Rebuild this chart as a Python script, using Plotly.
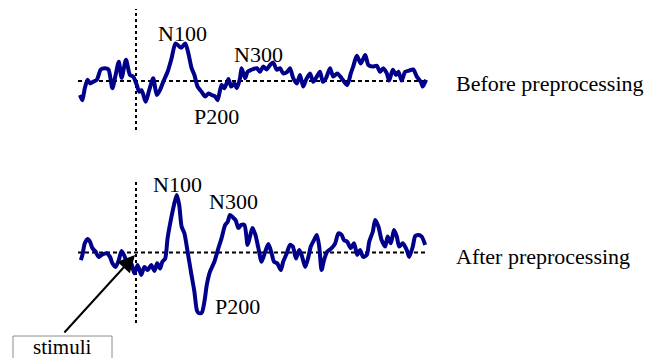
import plotly.graph_objects as go

# ---- data (time in ms relative to stimulus, amplitude in µV, negative up) ----
t_before = [-140, -134, -128, -121, -115, -107, -98, -88, -78, -69, -59, -51, -43, -36, -25, -15, -7,
            2, 8, 14, 24, 33, 43, 52, 60, 68, 79, 89, 99, 113, 123, 131, 139, 146, 154, 164, 173, 181,
            189, 198, 204, 214, 221, 231, 238, 246, 252, 260, 264, 273, 279, 288, 302, 310, 318, 327,
            335, 343, 352, 360, 368, 378, 385, 393, 402, 410, 418, 425, 435, 443, 452, 460, 467, 475,
            485, 493, 503, 514, 528, 537, 543, 552, 562, 573, 581, 592, 602, 610, 618, 627, 633, 642,
            650, 656, 664, 673, 683, 693, 702, 712, 717, 725]
v_before = [3.5, 4.8, 1.8, -0.3, 0.6, 0.2, -0.3, -2.9, -3.2, -2.9, 1.8, -1.5, -4.8, -0.8, -5.3, -1.5, -1.1,
            1.0, 2.7, 2.3, 5.2, 2.3, -0.7, 3.5, 2.3, 0.2, -2.3, -5.7, -9.4, -8.3, -9.4, -6.9, -3.2, -1.5,
            1.4, 2.7, 3.9, 3.1, 3.5, 3.9, 4.8, 1.0, 1.8, -0.5, 1.4, 0.6, 1.8, -0.7, -3.2, -0.7, -2.3,
            -2.8, -3.2, -2.3, -3.6, -2.9, -4.0, -4.6, -2.8, -3.2, -1.9, -2.3, -3.2, -0.7, 0.6, -1.5, 1.4,
            -0.3, -1.9, 0.2, -1.1, -2.3, 0.2, -0.7, -3.2, -1.1, -1.9, -0.7, 1.0, -1.9, -3.6, -6.3, -4.4,
            -6.5, -4.0, -3.6, -3.8, -2.3, -3.2, -1.9, -0.1, -2.8, -1.5, -2.3, -0.1, -2.3, -2.6, -2.9,
            -1.1, 0.2, 1.4, -0.3]

t_after = [-138, -134, -128, -121, -115, -109, -101, -94, -86, -73, -65, -59, -51, -43, -36, -28, -21,
           -13, -4, 4, 13, 21, 29, 38, 46, 53, 60, 66, 73, 79, 88, 95, 102, 108, 114, 121, 129, 138,
           146, 152, 156, 164, 171, 177, 185, 196, 206, 214, 223, 229, 235, 243, 249, 256, 263, 271,
           279, 285, 291, 298, 306, 314, 323, 331, 339, 345, 353, 362, 368, 377, 385, 392, 400, 408,
           414, 423, 431, 437, 445, 452, 458, 464, 470, 478, 489, 498, 506, 514, 520, 528, 537, 545,
           553, 560, 568, 577, 583, 592, 598, 606, 614, 623, 629, 637, 645, 652, 658, 667, 677, 683,
           692, 698, 706, 714, 723]
v_after = [1.9, 0.6, -2.3, -3.4, -2.7, -1.1, -0.2, 1.1, 0.6, 0.2, 1.1, 2.7, 3.6, 1.9, -0.4, 1.1, 3.1,
           2.5, 5.2, 3.1, 5.6, 3.6, 4.4, 3.1, 4.6, 2.7, 4.0, 2.3, 1.5, -3.6, -8.6, -11.9, -14.4, -11.9,
           -6.5, -4.8, -0.2, 5.2, 9.8, 14.4, 15.1, 15.1, 12.3, 8.1, 4.8, 2.3, -1.1, -3.6, -6.9, -7.6,
           -9.4, -8.7, -8.1, -6.1, -6.9, -6.9, -1.9, -4.0, -6.1, -4.6, -1.1, 2.3, -0.2, -2.1, 0.2, 2.3,
           2.7, 4.4, 2.3, 0.2, -1.9, -1.5, 1.5, -0.6, 0.6, 3.6, 1.1, -1.5, -3.1, -4.4, -1.5, 4.4, 1.9,
           -0.2, -1.1, -2.3, -4.8, -4.4, -3.1, -2.7, -1.1, -2.3, 0.6, -0.6, 1.1, 0.6, -2.7, -5.2, -8.1,
           -6.5, -3.1, -1.5, -4.0, -2.3, -5.6, -4.0, -1.5, -2.3, -0.6, 1.1, -1.5, -4.1, -4.4, -4.0, -1.9]

stimulus_onset = 0
baseline_span = [-145, 725]
trace_labels = ["Before preprocessing", "After preprocessing"]
component_labels = ["N100", "P200", "N300"]
stim_label = "stimuli"

W, H = 659, 358
NAVY = "rgb(0,0,139)"
FONT = "Liberation Serif, Times New Roman, serif"


def px(x):
    return x / W


def py(y):
    return 1 - y / H


fig = go.Figure()
fig.add_trace(go.Scatter(x=t_before, y=v_before, mode="lines", yaxis="y",
                         line=dict(color=NAVY, width=4, shape="spline", smoothing=0.7)))
fig.add_trace(go.Scatter(x=t_after, y=v_after, mode="lines", yaxis="y2",
                         line=dict(color=NAVY, width=4, shape="spline", smoothing=0.7)))

# baselines
for yr in ["y", "y2"]:
    fig.add_shape(type="line", xref="x", yref=yr, x0=baseline_span[0], x1=baseline_span[1], y0=0, y1=0,
                  line=dict(color="black", width=2, dash="4px,3px"), layer="below")
# stimulus onset lines
fig.add_shape(type="line", xref="x", yref="paper", x0=stimulus_onset, x1=stimulus_onset,
              y0=py(130), y1=py(9), line=dict(color="black", width=2, dash="3px,3px"), layer="below")
fig.add_shape(type="line", xref="x", yref="paper", x0=stimulus_onset, x1=stimulus_onset,
              y0=py(323), y1=py(179), line=dict(color="black", width=2, dash="3px,3px"), layer="below")

# stimuli box
fig.add_shape(type="rect", xref="paper", yref="paper", x0=px(13), x1=px(112), y0=py(372), y1=py(336),
              line=dict(color="#8c8c8c", width=1), fillcolor="white")

font = dict(family=FONT, size=22, color="black")


def label(text, cx, cy, xanchor="center", size=22):
    fig.add_annotation(text=text, x=px(cx), y=py(cy), xref="paper", yref="paper", showarrow=False,
                       xanchor=xanchor, yanchor="middle", font=dict(font, size=size))


label(component_labels[0], 182, 33)
label(component_labels[1], 216, 116)
label(component_labels[2], 258, 54)
label(trace_labels[0], 454, 83, xanchor="left")
label(component_labels[0], 177, 184)
label(component_labels[2], 233, 201)
label(component_labels[1], 237, 306)
label(trace_labels[1], 454, 256, xanchor="left")
label(stim_label, 62, 347, size=21)

# arrow to stimulus onset
fig.add_annotation(x=px(135), y=py(255), xref="paper", yref="paper", text="", showarrow=True,
                   ax=-72, ay=79, axref="pixel", ayref="pixel",
                   arrowhead=2, arrowsize=1.7, arrowwidth=2, arrowcolor="black")

fig.update_layout(
    width=W, height=H, margin=dict(l=0, r=0, t=0, b=0),
    paper_bgcolor="white", plot_bgcolor="white", showlegend=False, hovermode=False,
    xaxis=dict(range=[(0 - 136) * 2.5, (W - 136) * 2.5], visible=False, fixedrange=True),
    yaxis=dict(range=[(H - 81) / 4, (0 - 81) / 4], visible=False, fixedrange=True),
    yaxis2=dict(range=[(H - 252.5) / 4, (0 - 252.5) / 4], visible=False, overlaying="y", fixedrange=True),
)

fig.write_html("out.html", config={"displayModeBar": False},
               post_script="document.body.style.margin='0';document.body.style.overflow='hidden';")
